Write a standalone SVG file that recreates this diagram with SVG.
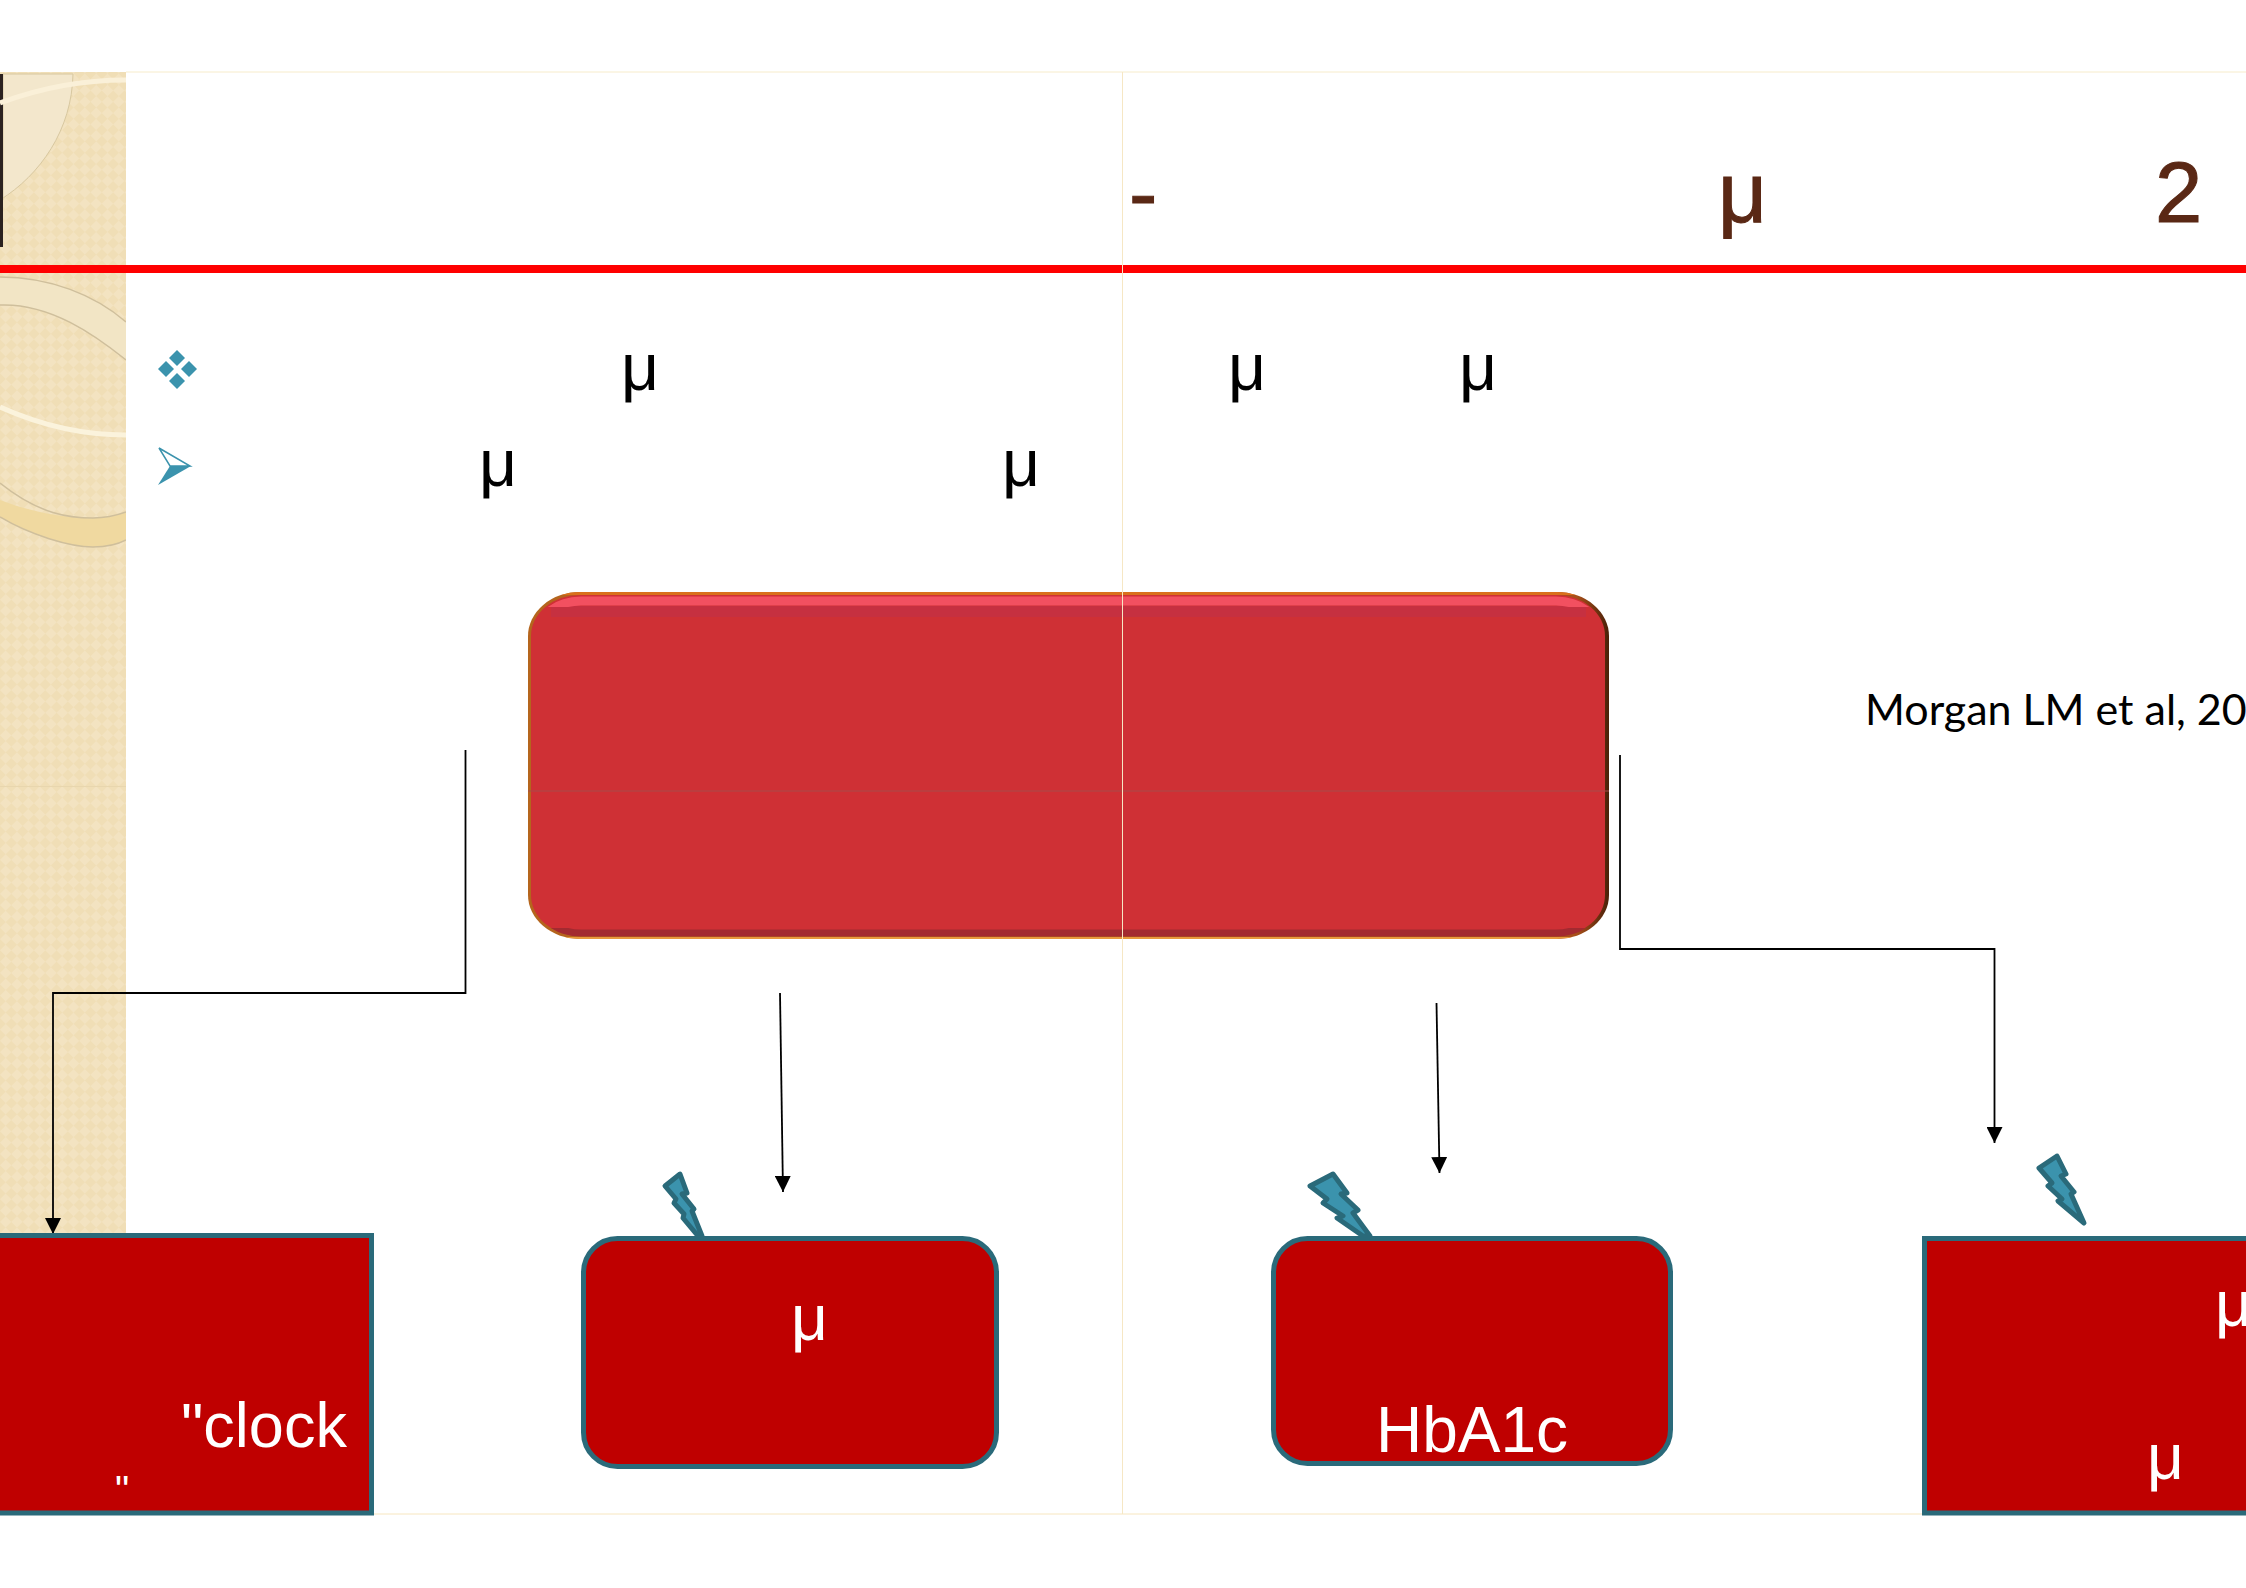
<svg xmlns="http://www.w3.org/2000/svg" width="2246" height="1588" viewBox="0 0 2246 1588">
<style>
.sans{font-family:"Liberation Sans",Arial,sans-serif}
.title{font-size:85px;fill:#5a2815;stroke:#5a2815;stroke-width:1}
.body{font-size:66px;fill:#000}
.w{fill:#fff;font-size:63px}
.node{fill:#bf0000;stroke:#2a6a7a;stroke-width:5}
.bolt{fill:#3b93ad;stroke:#2a6a7a;stroke-width:5;stroke-linejoin:round}
.conn{fill:none;stroke:#000;stroke-width:1.8}
.bullet{fill:#3b93ad}
.swirl{fill:none;stroke:#cfbf9c;stroke-width:1.5}
</style>
<defs>
<pattern id="check" width="16" height="16" patternUnits="userSpaceOnUse" patternTransform="rotate(45)">
<rect width="16" height="16" fill="#f3e3c1"/>
<rect width="8" height="8" fill="#f0deb6"/>
<rect x="8" y="8" width="8" height="8" fill="#f0deb6"/>
</pattern>
<marker id="arrow" markerUnits="userSpaceOnUse" markerWidth="16" markerHeight="16" refX="16" refY="8" orient="auto">
<path d="M0,0 L16,8 L0,16 Z" fill="#000"/>
</marker>
<linearGradient id="edge" x1="0" x2="1" y1="0" y2="0">
<stop offset="0" stop-color="#b5651d"/>
<stop offset="0.97" stop-color="#a8501a"/>
<stop offset="1" stop-color="#4a2008"/>
</linearGradient>
<clipPath id="mainclip"><rect x="528" y="592" width="1081" height="347" rx="52" ry="44"/></clipPath>
<clipPath id="topclip"><rect x="528" y="592" width="1081" height="15"/></clipPath>
<clipPath id="botclip"><rect x="528" y="928" width="1081" height="11"/></clipPath>
<clipPath id="sideclip"><rect x="0" y="72" width="126" height="1442"/></clipPath>
</defs>
<rect width="2246" height="1588" fill="#fff"/>

<g id="background">
<rect x="0" y="72" width="126" height="1442" fill="url(#check)"/>
<g clip-path="url(#sideclip)">
<path d="M3,74 H73 C72,130 40,175 0,200 L3,200 Z" fill="#f3e7cc" stroke="#d8c8a0" stroke-width="1"/>
<rect x="0" y="74" width="3" height="173" fill="#2b2220"/>
<path d="M0,103 C40,88 80,80 126,80" fill="none" stroke="#faf0d8" stroke-width="5"/>
<path d="M0,277 C50,277 95,295 126,322 L126,360 C95,335 50,303 0,305 Z" fill="#f2e5c5"/>
<path class="swirl" d="M0,277 C50,277 95,295 126,322"/>
<path class="swirl" d="M0,305 C50,303 95,335 126,360"/>
<path d="M0,407 C40,425 80,435 126,435" fill="none" stroke="#fbf3dc" stroke-width="5"/>
<path d="M0,500 C40,515 70,518 93,518 C105,518 115,516 126,512 L126,540 C115,546 105,547 93,547 C70,547 30,535 0,517 Z" fill="#f0d9a0"/>
<path class="swirl" d="M0,483 C40,515 70,518 93,518 C105,518 115,516 126,512"/>
<path class="swirl" d="M0,517 C30,535 70,547 93,547 C105,547 115,546 126,540"/>
<rect x="0" y="786" width="126" height="1" fill="#e8d6ae"/>
</g>
<path d="M126,72 H2246" stroke="#f7eccb" stroke-width="1" fill="none"/>
<path d="M374,1514 H1922" stroke="#f7e6bf" stroke-width="1" fill="none"/>
</g>

<g id="header">
<rect x="0" y="265" width="2246" height="8" fill="#ff0000"/>
<text class="sans title" x="1129" y="222">-</text>
<text class="sans title" x="1718" y="222">μ</text>
<text class="sans title" x="2155" y="222">2</text>
</g>

<g id="bullets">
<g id="bullet-diamonds" class="bullet">
<path d="M177,350 L185,358 L177,366 L169,358 Z"/>
<path d="M166,361 L174,369 L166,377 L158,369 Z"/>
<path d="M189,361 L197,369 L189,377 L181,369 Z"/>
<path d="M177,373 L185,381 L177,389 L169,381 Z"/>
</g>
<g id="bullet-arrow">
<path d="M159,448 L190,466 L170,466 Z" fill="#fff" stroke="#3b93ad" stroke-width="1.5"/>
<path d="M158,485 L191,466 L170,466 Z" fill="#3b93ad"/>
</g>
<text class="sans body" x="621" y="390">μ</text>
<text class="sans body" x="1228" y="390">μ</text>
<text class="sans body" x="1459" y="390">μ</text>
<text class="sans body" x="479" y="486">μ</text>
<text class="sans body" x="1002" y="486">μ</text>
</g>

<g id="main-box">
<rect x="528" y="592" width="1081" height="347" rx="52" ry="44" fill="url(#edge)"/>
<rect x="531" y="595" width="1074" height="341" rx="49" ry="41" fill="#cf3035"/>
<g clip-path="url(#mainclip)">
<rect x="528" y="592" width="1081" height="3" fill="#d9701c"/>
<rect x="551" y="606" width="1035" height="11" fill="#c63040"/>
<rect x="535" y="601" width="1067" height="330" rx="46" ry="38" fill="none" stroke="#f25060" stroke-width="9" clip-path="url(#topclip)"/>
<rect x="535" y="600" width="1067" height="333" rx="46" ry="38" fill="none" stroke="#a32a30" stroke-width="7" clip-path="url(#botclip)"/>
<rect x="528" y="937" width="1081" height="2" fill="#e89a3c"/>
<rect x="528" y="790.5" width="1081" height="1" fill="#a84a4a"/>
</g>
</g>
<path id="page-fold" d="M1122.5,72 V1514" stroke="#f6e7c4" stroke-width="1" fill="none"/>

<g id="citation">
<text x="1865" y="725" font-family="Lato,'Liberation Sans',sans-serif" font-size="43" fill="#000">Morgan LM et al, 20</text>
</g>

<g id="connectors">
<polyline class="conn" points="465.5,750 465.5,993 53,993 53,1234" marker-end="url(#arrow)"/>
<line class="conn" x1="780" y1="993" x2="783" y2="1192" marker-end="url(#arrow)"/>
<line class="conn" x1="1436.5" y1="1003" x2="1439.5" y2="1173" marker-end="url(#arrow)"/>
<polyline class="conn" points="1620,755 1620,949 1994.5,949 1994.5,1143" marker-end="url(#arrow)"/>
</g>

<g id="node-left">
<rect class="node" x="-10" y="1235.5" width="381.5" height="277.5"/>
<text class="sans w" x="181" y="1447">"clock</text>
<text class="sans w" x="115" y="1504" style="font-size:40px">"</text>
</g>

<g id="node-mid-left">
<path class="bolt" d="M680,1174 L665,1186 L676,1199 L674,1203 L684,1214 L683,1218 L698,1236 L702,1236 L692,1211 L694,1209 L682,1194 L687,1193 Z"/>
<rect class="node" x="583.5" y="1238.5" width="413" height="228" rx="34" ry="34"/>
<text class="sans w" x="791" y="1340" style="font-size:64px">μ</text>
</g>

<g id="node-mid-right">
<path class="bolt" d="M1333,1174 L1310,1186 L1327,1199 L1323,1203 L1343,1216 L1337,1218 L1363,1236 L1370,1236 L1353,1213 L1358,1210 L1341,1194 L1347,1193 Z"/>
<rect class="node" x="1273.5" y="1238.5" width="397" height="225" rx="34" ry="34"/>
<text class="sans w" x="1376" y="1452" style="font-size:64px">HbA1c</text>
</g>

<g id="node-right">
<path class="bolt" d="M2057,1156 L2039,1168 L2052,1183 L2048,1186 L2062,1199 L2058,1201 L2084,1223 L2071,1194 L2074,1192 L2061,1176 L2066,1174 Z"/>
<rect class="node" x="1924.5" y="1238.5" width="340" height="274.5"/>
<text class="sans w" x="2215" y="1326" style="font-size:64px">μ</text>
<text class="sans w" x="2147" y="1479" style="font-size:64px">μ</text>
</g>
</svg>
